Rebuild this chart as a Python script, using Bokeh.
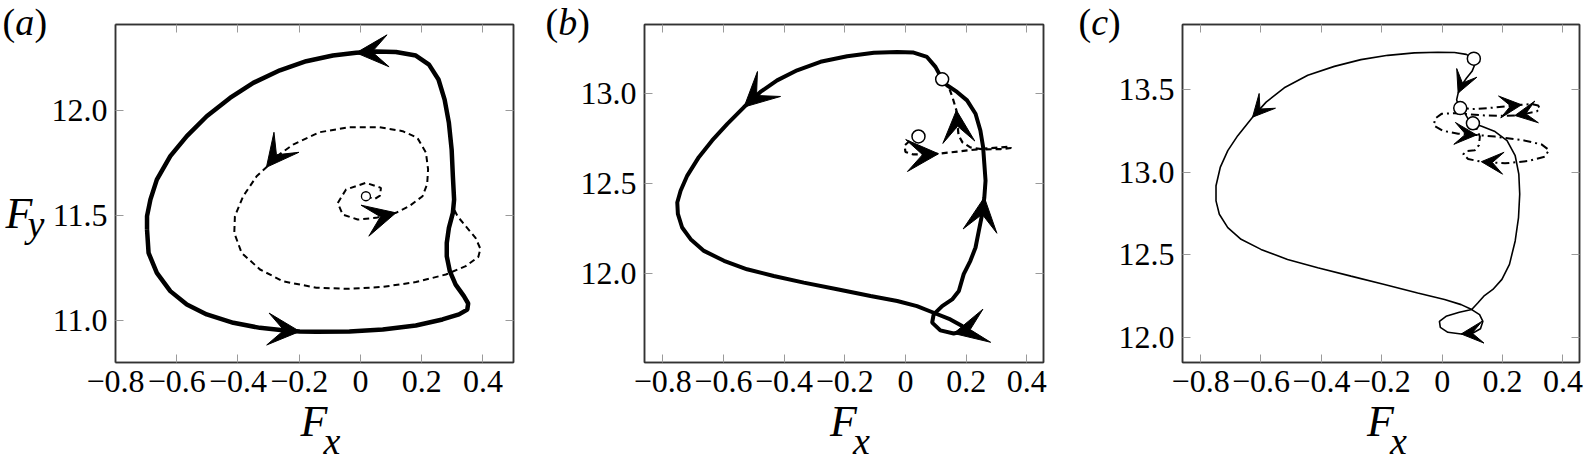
from bokeh.plotting import figure
from bokeh.layouts import row, column
from bokeh.models import (LinearAxis, FixedTicker, Arrow, VeeHead,
                          ColumnDataSource, Range1d)
from bokeh.core.properties import value
from bokeh.embed import file_html
from bokeh.resources import INLINE

# ---------------- data ----------------
x_ticks = [-0.8, -0.6, -0.4, -0.2, 0.0, 0.2, 0.4]
x_tick_labels = ["\u22120.8", "\u22120.6", "\u22120.4", "\u22120.2", "0", "0.2", "0.4"]

# panel (a)
a_yticks = [11.0, 11.5, 12.0]
a_solid_x = [-0.697,-0.692,-0.665,-0.621,-0.567,-0.502,-0.415,-0.328,-0.253,-0.198,-0.144,-0.036,0.073,0.181,0.268,0.322,0.349,0.352,0.338,0.311,0.292,0.282,0.282,0.289,0.302,0.306,0.302,0.298,0.289,0.275,0.255,0.224,0.181,0.116,0.051,-0.014,-0.090,-0.177,-0.263,-0.350,-0.426,-0.502,-0.567,-0.621,-0.665,-0.686,-0.697,-0.697]
a_solid_y = [11.433,11.322,11.227,11.140,11.076,11.029,10.989,10.965,10.954,10.948,10.946,10.948,10.957,10.976,11.005,11.029,11.052,11.081,11.116,11.171,11.235,11.306,11.370,11.441,11.513,11.576,11.687,11.814,11.941,12.052,12.148,12.219,12.262,12.279,12.281,12.275,12.262,12.235,12.192,12.132,12.060,11.973,11.878,11.783,11.671,11.576,11.497,11.433]
a_dash_x = [0.018,0.046,0.064,0.067,0.018,-0.047,-0.074,-0.058,-0.009,0.051,0.116,0.159,0.203,0.218,0.221,0.214,0.186,0.138,0.062,-0.036,-0.133,-0.220,-0.285,-0.307,-0.339,-0.383,-0.410,-0.412,-0.388,-0.328,-0.253,-0.144,-0.036,0.073,0.181,0.279,0.344,0.385,0.392,0.376,0.344,0.317,0.306]
a_dash_y = [11.592,11.578,11.595,11.632,11.656,11.624,11.560,11.505,11.481,11.489,11.513,11.544,11.592,11.650,11.720,11.800,11.870,11.902,11.921,11.921,11.897,11.838,11.770,11.730,11.687,11.592,11.497,11.417,11.322,11.243,11.187,11.156,11.151,11.160,11.183,11.219,11.259,11.303,11.341,11.394,11.449,11.497,11.529]
a_circle_x = [0.018]
a_circle_y = [11.592]
a_solid_arrows = [(34, 35), (8, 9)]
a_dash_arrows = [(22, 23), (9, 10)]

# panel (b)
b_yticks = [12.0, 12.5, 13.0]
b_solid_x = [0.121,0.099,0.071,0.027,-0.027,-0.104,-0.192,-0.280,-0.357,-0.423,-0.478,-0.532,-0.587,-0.637,-0.681,-0.719,-0.741,-0.752,-0.750,-0.736,-0.708,-0.664,-0.598,-0.522,-0.434,-0.335,-0.225,-0.115,-0.027,0.038,0.093,0.148,0.187,0.192,0.159,0.115,0.088,0.093,0.121,0.154,0.176,0.192,0.214,0.231,0.242,0.253,0.260,0.264,0.260,0.256,0.247,0.231,0.203,0.170,0.137,0.121]
b_solid_y = [13.076,13.145,13.200,13.224,13.228,13.223,13.204,13.173,13.126,13.070,13.006,12.922,12.829,12.737,12.644,12.542,12.458,12.393,12.329,12.254,12.189,12.124,12.069,12.022,11.985,11.948,11.911,11.874,11.846,11.818,11.781,11.744,11.707,11.679,11.666,11.683,11.726,11.772,11.818,11.855,11.902,11.995,12.069,12.143,12.236,12.329,12.421,12.514,12.607,12.700,12.792,12.885,12.959,13.006,13.043,13.076]
b_dash_x = [0.043,0.016,-0.003,0.000,0.026,0.066,0.109,0.181,0.257,0.313,0.345,0.348,0.313,0.257,0.214,0.188,0.175,0.171,0.168,0.155,0.142,0.121]
b_dash_y = [12.759,12.737,12.709,12.673,12.659,12.659,12.663,12.677,12.691,12.698,12.703,12.695,12.689,12.687,12.698,12.726,12.765,12.837,12.904,12.976,13.037,13.076]
b_circle_x = [0.043, 0.121]
b_circle_y = [12.759, 13.076]
b_solid_arrows = [(10, 11), (45, 46), (33, 34)]
b_dash_arrows = [(5, 6), (17, 18)]

# panel (c)
c_yticks = [12.0, 12.5, 13.0, 13.5]
c_solid_x = [0.105,0.080,0.041,-0.014,-0.092,-0.180,-0.269,-0.357,-0.445,-0.523,-0.583,-0.628,-0.677,-0.710,-0.735,-0.749,-0.749,-0.738,-0.710,-0.666,-0.600,-0.512,-0.412,-0.302,-0.191,-0.081,0.008,0.063,0.098,0.124,0.135,0.127,0.102,0.063,0.019,-0.006,-0.009,0.013,0.057,0.098,0.118,0.138,0.168,0.198,0.223,0.242,0.253,0.257,0.254,0.242,0.215,0.173,0.131,0.102,0.086,0.075,0.060,0.053,0.048,0.053,0.064,0.081,0.099,0.108,0.105]
c_solid_y = [13.690,13.716,13.727,13.729,13.725,13.710,13.684,13.643,13.589,13.513,13.426,13.335,13.223,13.132,13.030,12.919,12.827,12.746,12.665,12.594,12.533,12.472,12.422,12.371,12.320,12.269,12.229,12.198,12.168,12.137,12.097,12.052,12.026,12.020,12.030,12.060,12.097,12.127,12.152,12.168,12.208,12.249,12.290,12.351,12.442,12.584,12.726,12.868,12.990,13.101,13.193,13.250,13.280,13.298,13.325,13.359,13.390,13.410,13.440,13.481,13.528,13.572,13.613,13.653,13.690]
c_dd_x = [0.062,0.097,0.152,0.208,0.263,0.296,0.318,0.324,0.313,0.274,0.241,0.197,0.141,0.086,0.042,-0.002,-0.024,-0.027,0.003,0.053,0.114,0.175,0.263,0.329,0.354,0.340,0.285,0.208,0.130,0.086,0.070,0.081,0.108,0.122,0.125,0.114,0.099]
c_dd_y = [13.394,13.384,13.390,13.400,13.410,13.414,13.406,13.386,13.369,13.355,13.345,13.343,13.345,13.353,13.359,13.355,13.325,13.284,13.252,13.235,13.227,13.217,13.197,13.170,13.136,13.095,13.069,13.055,13.065,13.081,13.110,13.130,13.134,13.166,13.217,13.268,13.298]
c_circle_x = [0.105, 0.102, 0.060]
c_circle_y = [13.690, 13.298, 13.390]
c_solid_arrows = [(10, 11), (32, 33), (60, 59)]
c_dd_arrows = [(3, 4), (9, 10), (19, 20), (27, 28)]

# ---------------- styling / layout ----------------
SERIF = "Liberation Serif"
W, H = 1595, 460
FH = 338
TOP = 24
FRAME_COL = "#333333"
TICK_COL = "#9a9a9a"


def style_axis(ax, ticks, overrides, show_labels):
    ax.ticker = FixedTicker(ticks=ticks)
    ax.major_label_overrides = overrides
    ax.major_tick_in = 8
    ax.major_tick_out = 0
    ax.major_tick_line_color = TICK_COL
    ax.major_tick_line_width = 1
    ax.minor_tick_line_color = None
    ax.axis_line_color = FRAME_COL
    ax.axis_line_width = 1.5
    ax.major_label_text_font = SERIF
    ax.major_label_text_color = "black"
    if show_labels:
        ax.major_label_text_font_size = "32px"
    else:
        ax.major_label_text_font_size = "8px"
        ax.major_label_standoff = 0


def make_panel(xr, yr, fw, bl, br, yticks):
    p = figure(title=None, frame_width=fw, frame_height=FH,
               min_border_left=bl, min_border_right=br,
               min_border_top=TOP, min_border_bottom=H - TOP - FH,
               x_range=Range1d(*xr), y_range=Range1d(*yr),
               output_backend="svg", toolbar_location=None)
    p.grid.visible = False
    p.outline_line_color = FRAME_COL
    p.outline_line_width = 1.5
    p.background_fill_color = "white"
    p.border_fill_color = "white"
    xo = {t: l for t, l in zip(x_ticks, x_tick_labels)}
    yo = {t: "%.1f" % t for t in yticks}
    style_axis(p.xaxis[0], x_ticks, xo, True)
    p.xaxis[0].major_label_standoff = 8
    style_axis(p.yaxis[0], yticks, yo, True)
    p.yaxis[0].major_label_standoff = 8
    top = LinearAxis()
    style_axis(top, x_ticks, {t: "" for t in x_ticks}, False)
    p.add_layout(top, "above")
    right = LinearAxis()
    style_axis(right, yticks, {t: "" for t in yticks}, False)
    p.add_layout(right, "right")
    return p


def add_arrows(p, xs, ys, pairs, size):
    src = ColumnDataSource(dict(
        x0=[xs[i] for i, j in pairs], y0=[ys[i] for i, j in pairs],
        x1=[xs[j] for i, j in pairs], y1=[ys[j] for i, j in pairs]))
    p.add_layout(Arrow(end=VeeHead(size=size, fill_color="black",
                                   line_color="black", line_width=1),
                       x_start="x0", y_start="y0", x_end="x1", y_end="y1",
                       source=src, line_alpha=0))


# ---- panel a ----
pa = make_panel((-0.8, 0.5), (10.8, 12.41), 398, 115, 17, a_yticks)
pa.line(a_dash_x, a_dash_y, line_color="black", line_width=2, line_dash="6 4")
pa.line(a_solid_x, a_solid_y, line_color="black", line_width=4.5)
add_arrows(pa, a_solid_x, a_solid_y, a_solid_arrows, 32)
add_arrows(pa, a_dash_x, a_dash_y, a_dash_arrows, 32)
pa.scatter(a_circle_x, a_circle_y, size=9, marker="circle", fill_color="white",
           line_color="black", line_width=1.3)

# ---- panel b ----
pb = make_panel((-0.86, 0.455), (11.505, 13.38), 399, 114, 17, b_yticks)
pb.line(b_dash_x, b_dash_y, line_color="black", line_width=2.2, line_dash="6 4")
pb.line(b_solid_x, b_solid_y, line_color="black", line_width=4)
add_arrows(pb, b_solid_x, b_solid_y, b_solid_arrows, 34)
add_arrows(pb, b_dash_x, b_dash_y, b_dash_arrows, 32)
pb.scatter(b_circle_x, b_circle_y, size=13, marker="circle", fill_color="white",
           line_color="black", line_width=1.5)

# ---- panel c ----
pc = make_panel((-0.86, 0.455), (11.847, 13.897), 397, 122, 16, c_yticks)
pc.line(c_dd_x, c_dd_y, line_color="black", line_width=2, line_dash="8 4 2 4")
pc.line(c_solid_x, c_solid_y, line_color="black", line_width=1.6)
add_arrows(pc, c_solid_x, c_solid_y, c_solid_arrows, 22)
add_arrows(pc, c_dd_x, c_dd_y, c_dd_arrows, 22)
pc.scatter(c_circle_x, c_circle_y, size=13, marker="circle", fill_color="white",
           line_color="black", line_width=1.5)

# ---- transparent overlay carrying the texts outside the frames ----
ov = figure(title=None, width=W, height=H, x_range=Range1d(0, W),
            y_range=Range1d(H, 0), min_border=0,
            x_axis_location=None, y_axis_location=None,
            output_backend="svg", toolbar_location=None)
ov.grid.visible = False
ov.outline_line_color = None
ov.background_fill_color = None
ov.border_fill_color = None
ov.margin = (-H, 0, 0, 0)

DY = -12  # compensation of the overlay's vertical placement


def ov_text(xs, ys, texts, size, italic):
    ov.text(x=xs, y=[v + DY for v in ys], text=texts, text_font=value(SERIF),
            text_font_size=value(size),
            text_font_style=value("italic" if italic else "normal"),
            text_align=value("left"), text_baseline=value("alphabetic"),
            text_color="black")


# panel tags
ov_text([2, 34, 545, 576.7, 1078, 1107.6], [33] * 6,
        ["(", ")", "(", ")", "(", ")"], "38px", False)
ov_text([14.7, 557.7, 1090.7], [33] * 3, ["a", "b", "c"], "38px", True)
# axis titles F_x, F_y
ov_text([5, 300, 829.5, 1366.5], [225, 433, 433, 433],
        ["F", "F", "F", "F"], "44px", True)
ov_text([27, 323, 852.5, 1389.5], [235, 452, 452, 452],
        ["y", "x", "x", "x"], "38px", True)

layout = column(row(pa, pb, pc), ov)
open("out.html", "w").write(file_html(layout, INLINE))
